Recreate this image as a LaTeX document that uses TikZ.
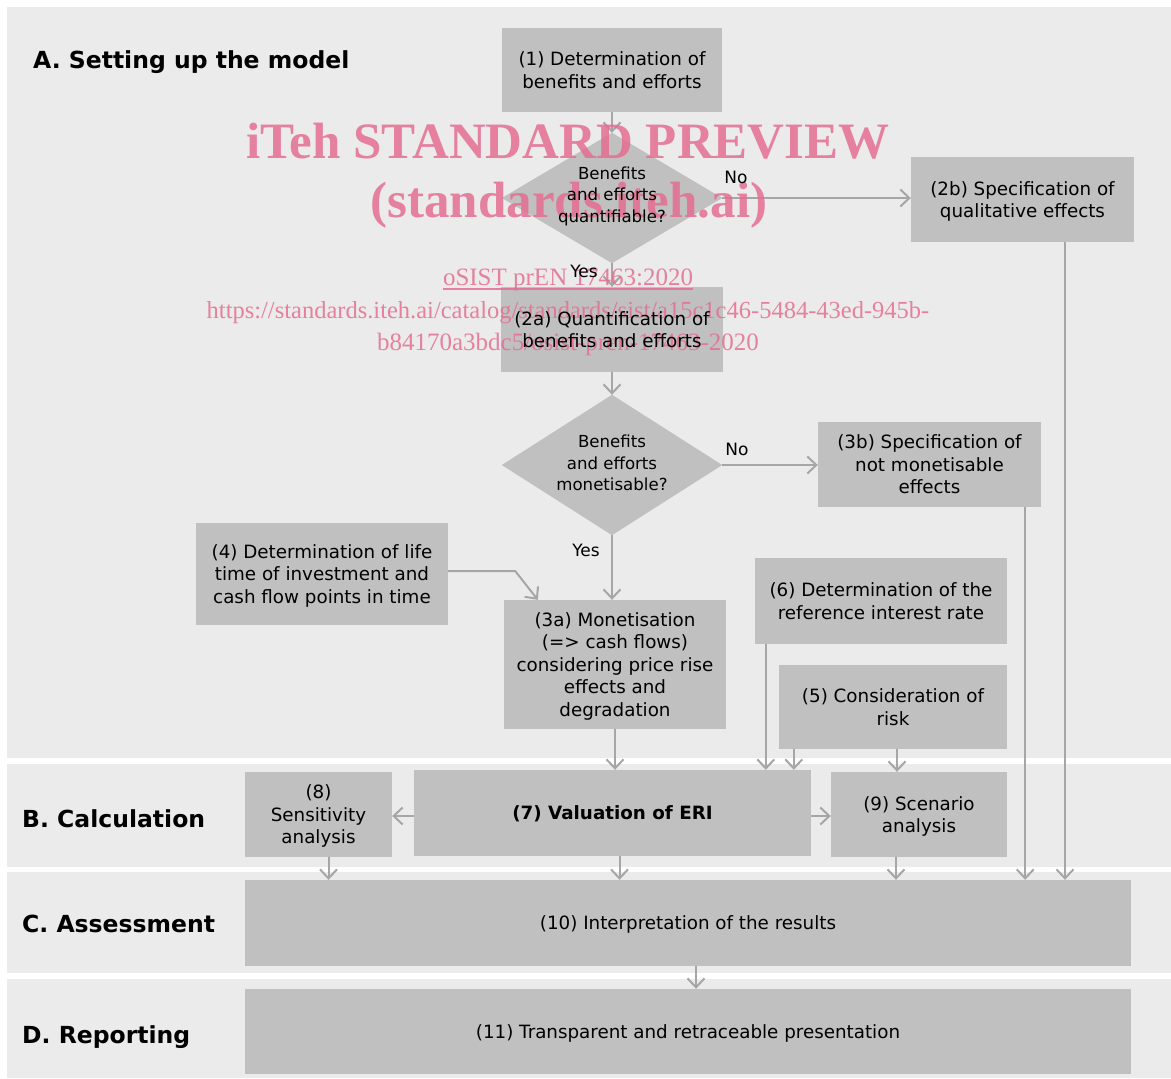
\documentclass[tikz,border=0pt]{standalone}
\usepackage{fontspec}
\setmainfont{DejaVu Sans}
\newfontfamily\wmfont{Liberation Serif}
\usetikzlibrary{arrows.meta,shapes.geometric,calc}
\definecolor{bandcol}{HTML}{EBEBEB}
\definecolor{boxcol}{HTML}{C0C0C0}
\definecolor{arrcol}{HTML}{A6A6A6}
\definecolor{wmcol}{RGB}{228,110,146}
\pgfdeclarelayer{bg}
\pgfdeclarelayer{wm}
\pgfsetlayers{bg,wm,main}
\begin{document}
\begin{tikzpicture}[x=1pt,y=-1pt,
  boxnode/.style={rectangle, inner sep=0pt, align=center, text depth=0pt, font=\fontsize{18.3}{22.5}\selectfont},
  dianode/.style={diamond, inner sep=0pt, minimum width=220pt},
  dtext/.style={inner sep=0pt, align=center, font=\fontsize{16.6}{21.5}\selectfont},
  yn/.style={inner sep=0pt, font=\fontsize{17}{20}\selectfont},
  section/.style={anchor=west, inner sep=0pt, font=\fontsize{23.5}{27}\selectfont\bfseries},
  band/.style={fill=bandcol},
  boxfill/.style={fill=boxcol},
  arr/.style={draw=arrcol, line width=2pt, -{Straight Barb[length=9pt,width=17pt,line width=2pt]}},
  wm/.style={inner sep=0pt, anchor=base, text=wmcol, opacity=0.85, text opacity=0.85},
  wmbig/.style={wm, font=\wmfont\fontsize{51}{55}\selectfont\bfseries},
  wmsmall/.style={wm, font=\wmfont\fontsize{25}{28}\selectfont}
]
\useasboundingbox (0,0) rectangle (1171,1079);

% section titles
\node[section] (tA) at (33,62) {A. Setting up the model};
\node[section] (tB) at (22,819) {B. Calculation};
\node[section] (tC) at (22,924) {C. Assessment};
\node[section] (tD) at (22,1037) {D. Reporting};

% boxes (text only; fills on background layer)
\node[boxnode, minimum width=220pt, minimum height=84pt] (n1) at (612,70) {(1) Determination of\\benefits and efforts};
\node[dianode, minimum height=130pt] (d1) at (612,198) {};
\node[dtext] (d1t) at (612,196) {Benefits\\and efforts\\quantifiable?};
\node[boxnode, minimum width=223pt, minimum height=85pt] (n2b) at (1022.5,199.5) {(2b) Specification of\\qualitative effects};
\node[boxnode, minimum width=222pt, minimum height=85pt] (n2a) at (612,329.5) {(2a) Quantification of\\benefits and efforts};
\node[dianode, minimum height=140pt] (d2) at (612,465) {};
\node[dtext] (d2t) at (612,463) {Benefits\\and efforts\\monetisable?};
\node[boxnode, minimum width=223pt, minimum height=85pt] (n3b) at (929.5,464.5) {(3b) Specification of\\not monetisable\\effects};
\node[boxnode, minimum width=252pt, minimum height=102pt] (n4) at (322,574) {(4) Determination of life\\time of investment and\\cash flow points in time};
\node[boxnode, minimum width=222pt, minimum height=129pt] (n3a) at (615,664.5) {(3a) Monetisation\\(=> cash flows)\\considering price rise\\effects and\\degradation};
\node[boxnode, minimum width=252pt, minimum height=86pt] (n6) at (881,601) {(6) Determination of the\\reference interest rate};
\node[boxnode, minimum width=228pt, minimum height=84pt] (n5) at (893,707) {(5) Consideration of\\risk};
\node[boxnode, minimum width=147pt, minimum height=85pt] (n8) at (318.5,814.5) {(8)\\Sensitivity\\analysis};
\node[boxnode, minimum width=397pt, minimum height=86pt] (n7) at (612.5,813) {\bfseries (7) Valuation of ERI};
\node[boxnode, minimum width=176pt, minimum height=85pt] (n9) at (919,814.5) {(9) Scenario\\analysis};
\node[boxnode, minimum width=886pt, minimum height=86pt] (n10) at (688,923) {(10) Interpretation of the results};
\node[boxnode, minimum width=886pt, minimum height=85pt] (n11) at (688,1031.5) {(11) Transparent and retraceable presentation};

% yes/no labels
\node[yn] (no1) at (736,177) {No};
\node[yn] (yes1) at (584,271) {Yes};
\node[yn] (no2) at (737,449) {No};
\node[yn] (yes2) at (586,550) {Yes};

% helper coordinates
\coordinate (c6) at ([xshift=11pt]n6.south west);
\coordinate (c5a) at ([xshift=15pt]n5.south west);
\coordinate (c5b) at ([xshift=4pt]n5.south);
\coordinate (c8) at ([xshift=10pt]n8.south);
\coordinate (c7) at ([xshift=7pt]n7.south);
\coordinate (c9) at ([xshift=-23pt]n9.south);
\coordinate (c3b) at ([xshift=-16pt]n3b.south east);
\coordinate (c2b) at ([xshift=42.5pt]n2b.south);
\coordinate (c10) at ([xshift=8pt]n10.south);
\coordinate (c3a) at ([xshift=34pt]n3a.north west);
\coordinate (c4) at ([yshift=3pt]n4.east);
\coordinate (c4b) at ($(c4)+(67,0)$);

\begin{pgfonlayer}{bg}
  \fill[band] (7,7) rectangle (1171,758);
  \fill[band] (7,764) rectangle (1171,867);
  \fill[band] (7,872) rectangle (1171,973);
  \fill[band] (7,979) rectangle (1171,1078);
  \foreach \n in {n1,n2b,n2a,n3b,n4,n3a,n6,n5,n8,n7,n9,n10,n11}
    \fill[boxfill] (\n.south west) rectangle (\n.north east);
  \foreach \n in {d1,d2}
    \fill[boxfill] (\n.north) -- (\n.east) -- (\n.south) -- (\n.west) -- cycle;
  % connectors
  \draw[arr] (n1.south) -- (d1.north);
  \draw[arr] (d1.east) -- (d1.east -| n2b.west);
  \draw[arr] (d1.south) -- (n2a.north);
  \draw[arr] (n2a.south) -- (d2.north);
  \draw[arr] (d2.east) -- (d2.east -| n3b.west);
  \draw[arr] (d2.south) -- (d2.south |- n3a.north);
  \draw[arr] (c4) -- (c4b) -- (c3a);
  \draw[arr] (n3a.south) -- (n3a.south |- n7.north);
  \draw[arr] (c6) -- (c6 |- n7.north);
  \draw[arr] (c5a) -- (c5a |- n7.north);
  \draw[arr] (c5b) -- (c5b |- n9.north);
  \draw[arr] ([yshift=-3pt]n7.west) -- ([yshift=-3pt]n7.west -| n8.east);
  \draw[arr] ([yshift=-3pt]n7.east) -- ([yshift=-3pt]n7.east -| n9.west);
  \draw[arr] (c8) -- (c8 |- n10.north);
  \draw[arr] (c7) -- (c7 |- n10.north);
  \draw[arr] (c9) -- (c9 |- n10.north);
  \draw[arr] (c3b) -- (c3b |- n10.north);
  \draw[arr] (c2b) -- (c2b |- n10.north);
  \draw[arr] (c10) -- (c10 |- n11.north);
\end{pgfonlayer}

\begin{pgfonlayer}{wm}
  \node[wmbig] (wm1) at (568,158) {iTeh STANDARD PREVIEW};
  \node[wmbig] (wm2) at (569,217) {(standards.iteh.ai)};
  \node[wmsmall] (wm3) at (568,285) {oSIST prEN 17463:2020};
  \draw[draw=wmcol, opacity=0.85, line width=1.3pt] ([yshift=-4pt]wm3.base west) -- ([yshift=-4pt]wm3.base east);
  \node[wmsmall, font=\wmfont\fontsize{24.5}{28}\selectfont] (wm4) at (568,318) {https://standards.iteh.ai/catalog/standards/sist/a15c1c46-5484-43ed-945b-};
  \node[wmsmall] (wm5) at (568,350) {b84170a3bdc5/osist-pren-17463-2020};
\end{pgfonlayer}
\end{tikzpicture}
\end{document}
